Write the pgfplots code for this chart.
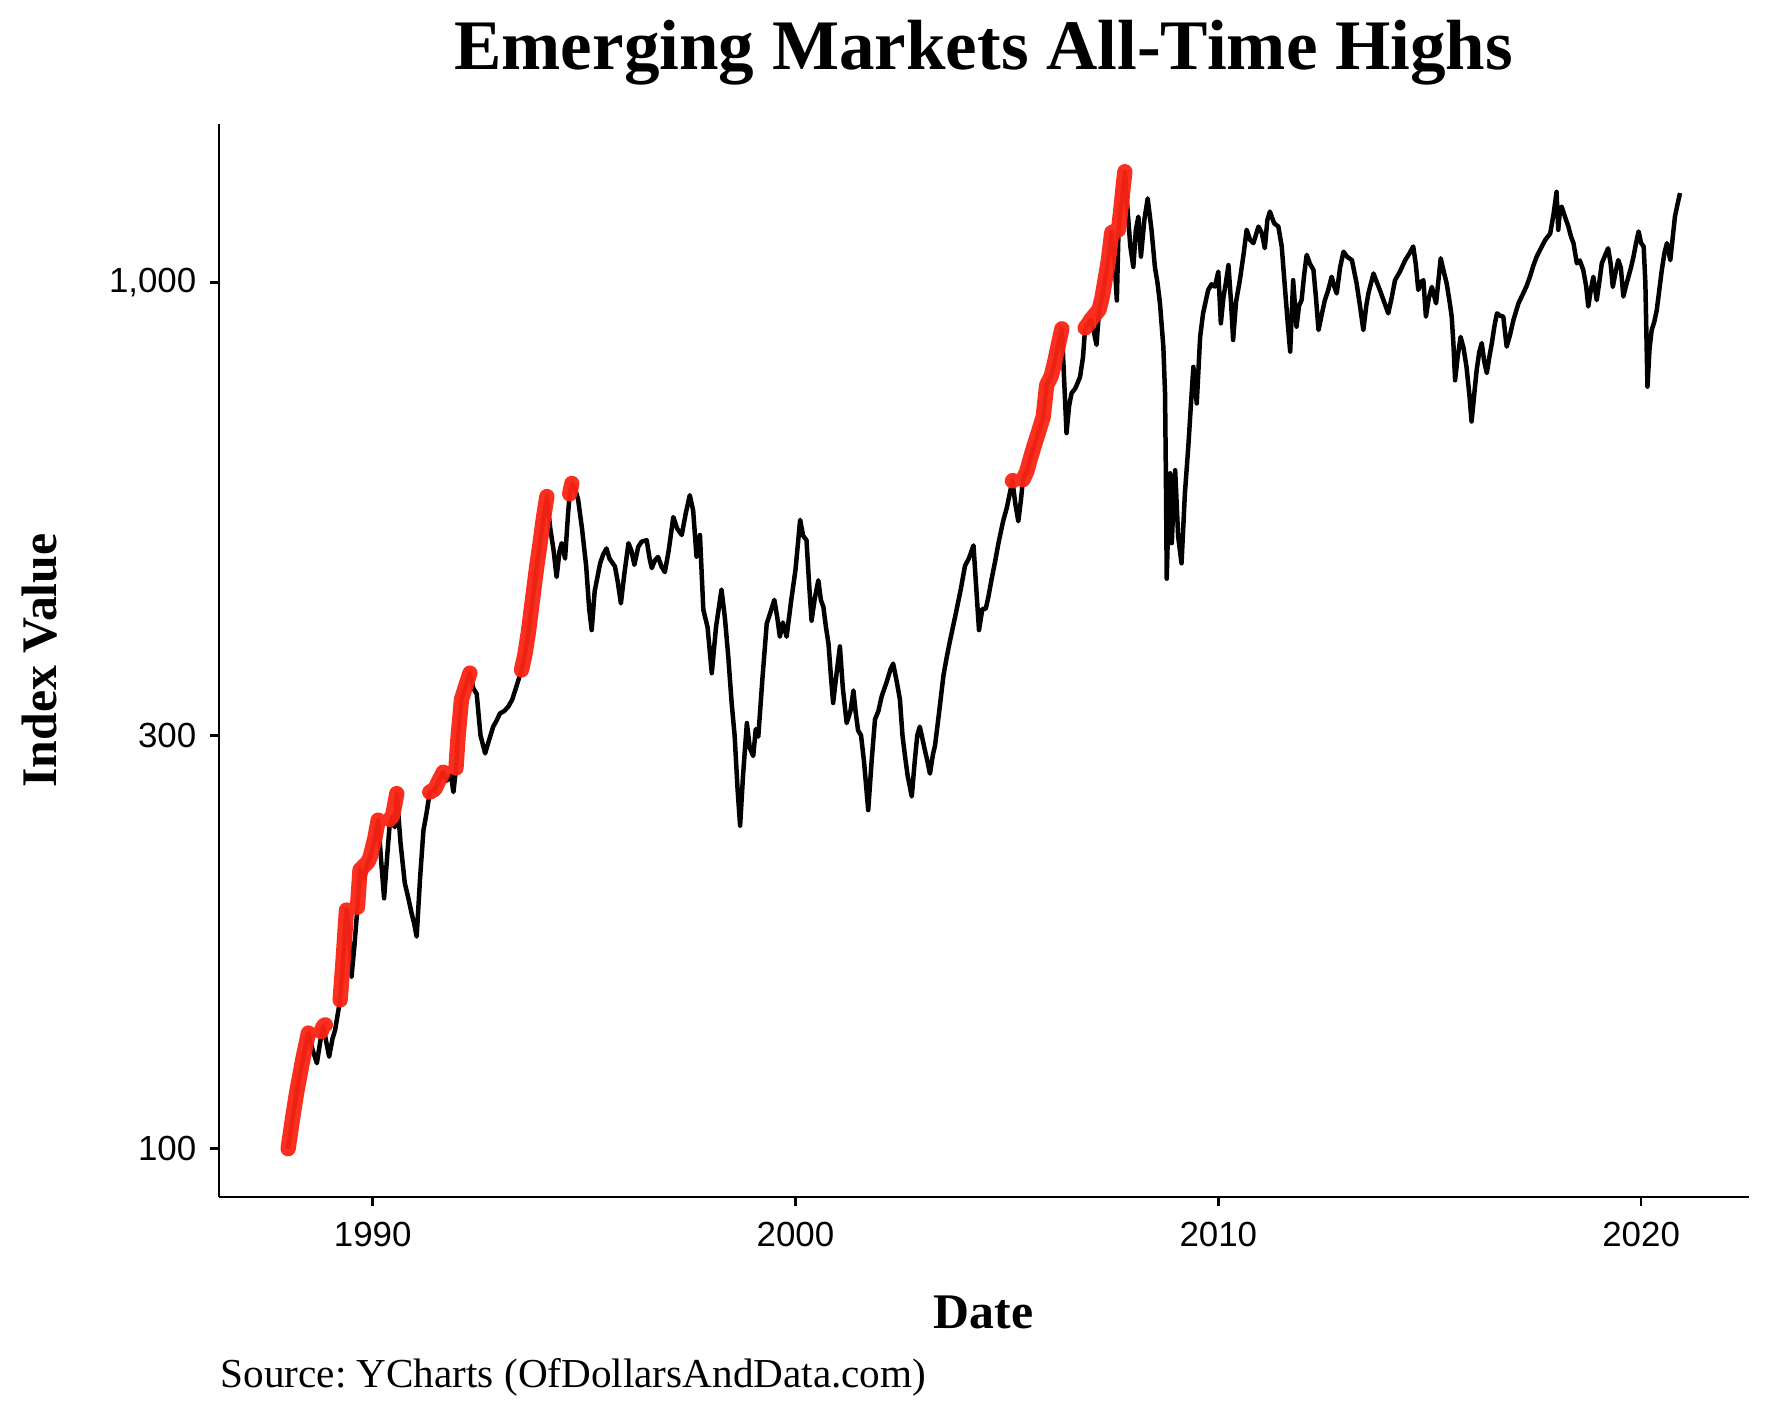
\documentclass[border=0pt]{standalone}
\usepackage{fontspec}
\setmainfont{Liberation Serif}
\newfontfamily\ticksans{Liberation Sans}
\usepackage{pgfplots}
\usepackage{pgfplotstable}
\pgfplotsset{compat=1.18}
\definecolor{athred}{RGB}{250,36,20}
\frenchspacing

\pgfplotstableread{
year value
1988.00 100
1988.10 108
1988.20 116
1988.35 127
1988.48 136
1988.58 130
1988.68 125.5
1988.76 133
1988.83 138.5
1988.90 133
1988.97 127.7
1989.05 134
1989.11 137
1989.23 148.5
1989.30 165
1989.38 188.6
1989.44 180
1989.50 158
1989.57 172
1989.64 190
1989.70 209.8
1989.80 205
1989.88 214
1989.94 217
1990.05 228
1990.13 239.5
1990.20 215
1990.27 194.6
1990.35 220
1990.40 236
1990.47 242
1990.52 235
1990.57 257
1990.66 225
1990.76 202.5
1990.84 195
1990.92 187
1990.98 182
1991.04 175.7
1991.12 205
1991.20 233
1991.28 245
1991.35 258
1991.47 260
1991.55 265
1991.67 272
1991.75 266
1991.85 270
1991.91 258
1991.97 275
1992.02 299
1992.10 330
1992.20 342
1992.30 354
1992.38 340
1992.46 335
1992.55 300
1992.66 286
1992.75 296
1992.85 307
1992.93 312
1993.01 318
1993.11 320
1993.21 324
1993.30 330
1993.37 338
1993.45 348
1993.52 357
1993.60 372
1993.68 394
1993.80 438
1993.88 470
1993.96 500
1994.04 535
1994.12 566
1994.20 520
1994.28 490
1994.35 457
1994.42 490
1994.47 500
1994.55 480
1994.62 540
1994.66 570
1994.71 586
1994.80 575
1994.86 561
1994.95 520
1995.05 470
1995.12 420
1995.18 397
1995.25 440
1995.38 474
1995.45 485
1995.53 493
1995.60 480
1995.73 470
1995.80 450
1995.87 426
1995.95 460
1996.05 500
1996.12 490
1996.19 472
1996.28 495
1996.36 502
1996.48 504
1996.55 480
1996.60 468
1996.68 478
1996.75 482
1996.83 470
1996.91 463
1997.00 490
1997.11 536
1997.20 520
1997.31 511
1997.40 540
1997.50 568
1997.58 545
1997.66 482
1997.74 511
1997.82 419
1997.92 400
1998.02 354
1998.12 400
1998.25 442
1998.33 410
1998.41 370
1998.49 327
1998.56 300
1998.63 260
1998.69 236
1998.76 270
1998.85 310
1998.92 290
1999.00 284
1999.06 305
1999.12 299
1999.22 350
1999.32 404
1999.40 415
1999.50 430
1999.57 410
1999.63 390
1999.70 405
1999.79 390
1999.90 430
2000.00 466
2000.11 532
2000.18 510
2000.26 504
2000.32 450
2000.38 407
2000.45 430
2000.54 453
2000.60 430
2000.66 422
2000.72 400
2000.78 383
2000.84 350
2000.89 327
2000.96 350
2001.05 380
2001.12 340
2001.21 310
2001.30 320
2001.37 338
2001.42 320
2001.48 304
2001.55 300
2001.62 280
2001.72 246
2001.80 280
2001.88 313
2001.96 320
2002.04 333
2002.15 345
2002.25 358
2002.31 363
2002.40 345
2002.47 330
2002.53 300
2002.59 284
2002.65 270
2002.75 255
2002.82 280
2002.88 300
2002.94 307
2003.05 290
2003.12 280
2003.18 271
2003.25 285
2003.30 292
2003.40 320
2003.50 352
2003.58 370
2003.65 385
2003.77 410
2003.90 440
2004.01 471
2004.10 480
2004.21 497
2004.28 440
2004.34 397
2004.42 420
2004.50 420
2004.56 433
2004.64 455
2004.72 476
2004.80 500
2004.91 530
2005.00 550
2005.13 590
2005.20 555
2005.27 530
2005.33 560
2005.38 592
2005.47 605
2005.55 625
2005.62 642
2005.74 670
2005.86 700
2005.94 761
2006.05 780
2006.12 805
2006.20 840
2006.30 884
2006.36 760
2006.41 670
2006.47 720
2006.53 745
2006.62 755
2006.73 778
2006.80 820
2006.85 886
2006.92 895
2006.98 905
2007.05 880
2007.12 847
2007.18 930
2007.25 960
2007.32 1005
2007.40 1060
2007.48 1142
2007.55 1050
2007.60 953
2007.64 1150
2007.70 1220
2007.75 1290
2007.79 1342
2007.86 1200
2007.92 1100
2007.99 1042
2008.05 1150
2008.11 1191
2008.17 1071
2008.25 1180
2008.33 1250
2008.42 1150
2008.50 1042
2008.56 1000
2008.62 946
2008.70 843
2008.74 745
2008.76 600
2008.78 455
2008.82 540
2008.86 602
2008.90 500
2008.94 560
2008.98 607
2009.05 509
2009.13 474
2009.21 571
2009.29 646
2009.35 720
2009.41 799
2009.49 725
2009.57 865
2009.64 921
2009.70 950
2009.76 980
2009.84 995
2009.92 989
2010.00 1029
2010.06 897
2010.12 960
2010.18 1000
2010.24 1047
2010.30 950
2010.35 858
2010.42 950
2010.51 1006
2010.60 1080
2010.67 1150
2010.75 1120
2010.83 1110
2010.95 1160
2011.03 1140
2011.10 1095
2011.16 1180
2011.22 1207
2011.32 1170
2011.42 1160
2011.50 1100
2011.58 980
2011.64 900
2011.70 832
2011.77 1006
2011.85 889
2011.91 940
2011.97 954
2012.03 1020
2012.09 1076
2012.17 1050
2012.25 1034
2012.31 960
2012.37 881
2012.45 920
2012.52 954
2012.60 980
2012.68 1015
2012.74 990
2012.80 971
2012.88 1040
2012.96 1085
2013.05 1070
2013.16 1061
2013.27 998
2013.35 940
2013.43 881
2013.50 940
2013.55 971
2013.67 1024
2013.75 1000
2013.82 980
2013.92 950
2014.02 921
2014.10 960
2014.18 1006
2014.30 1030
2014.42 1061
2014.52 1080
2014.61 1100
2014.67 1050
2014.73 980
2014.79 1000
2014.85 1006
2014.91 913
2014.98 960
2015.05 988
2015.15 946
2015.26 1066
2015.33 1030
2015.40 998
2015.47 950
2015.52 913
2015.56 850
2015.60 771
2015.66 820
2015.73 865
2015.80 840
2015.87 799
2015.94 740
2015.99 691
2016.05 740
2016.11 792
2016.17 830
2016.23 851
2016.29 810
2016.35 786
2016.41 820
2016.47 851
2016.53 890
2016.59 921
2016.67 915
2016.74 913
2016.82 843
2016.90 870
2016.98 905
2017.10 946
2017.21 971
2017.29 990
2017.37 1015
2017.45 1045
2017.53 1071
2017.63 1095
2017.73 1119
2017.85 1139
2017.93 1200
2018.00 1272
2018.04 1150
2018.08 1210
2018.12 1223
2018.20 1190
2018.28 1160
2018.34 1130
2018.40 1110
2018.48 1052
2018.55 1060
2018.63 1034
2018.70 990
2018.75 938
2018.81 980
2018.87 1015
2018.95 954
2019.01 1000
2019.07 1052
2019.15 1075
2019.22 1095
2019.28 1050
2019.33 988
2019.40 1030
2019.46 1061
2019.52 1040
2019.58 963
2019.64 990
2019.70 1015
2019.76 1040
2019.82 1071
2019.88 1110
2019.94 1145
2020.00 1110
2020.06 1100
2020.10 1000
2020.15 758
2020.20 840
2020.25 881
2020.31 900
2020.37 929
2020.43 980
2020.49 1034
2020.55 1080
2020.61 1110
2020.69 1061
2020.75 1130
2020.80 1191
2020.86 1230
2020.92 1268
}\indexdata

\pgfplotstableread{
year value
1988.00 100
1988.10 108
1988.20 116
1988.35 127
1988.48 136
1988.60 nan
1988.78 136.5
1988.83 138.5
1988.88 139
1988.95 nan
1989.23 148.5
1989.30 165
1989.38 188.6
1989.50 nan
1989.64 190
1989.70 209.8
1989.88 214
1989.94 217
1990.05 228
1990.13 239.5
1990.30 nan
1990.40 240
1990.47 242
1990.57 257
1990.80 nan
1991.35 258
1991.47 260
1991.55 265
1991.67 272
1991.80 nan
1991.97 275
1992.02 299
1992.10 330
1992.20 342
1992.30 354
1992.50 nan
1993.52 357
1993.60 372
1993.68 394
1993.80 438
1993.88 470
1993.96 500
1994.04 535
1994.12 566
1994.30 nan
1994.66 570
1994.71 586
1994.90 nan
2005.13 590
2005.14 590.5
2005.25 nan
2005.38 592
2005.47 605
2005.55 625
2005.62 642
2005.74 670
2005.86 700
2005.94 761
2006.05 780
2006.12 805
2006.20 840
2006.30 884
2006.50 nan
2006.85 886
2006.92 895
2006.98 905
2007.18 930
2007.25 960
2007.32 1005
2007.40 1060
2007.48 1142
2007.64 1150
2007.70 1220
2007.75 1290
2007.79 1342
}\athdata

\begin{document}
\begin{tikzpicture}
\begin{axis}[
  at={(0,0)}, anchor=south west,
  width=458.85bp, height=321.9bp, scale only axis,
  xmin=1986.365, xmax=2022.54,
  ymode=log, ymin=87.96, ymax=1523.6,
  axis x line*=bottom, axis y line*=left,
  axis line style={line width=0.8bp, -},
  xtick={1990,2000,2010,2020}, xticklabels={1990,2000,2010,2020},
  ytick={100,300,1000}, yticklabels={100,300,{1,000}},
  xminorticks=false, yminorticks=false,
  tick align=outside, major tick length=2.6bp,
  tick style={line width=0.8bp, black},
  ticklabel style={font=\ticksans\fontsize{10.5}{12}\selectfont, text=black},
  xticklabel style={yshift=-1.3bp},
  yticklabel style={xshift=-0.7bp},
  unbounded coords=jump,
]
\addplot[black, line width=1.35bp, line join=round] table[x=year, y=value] {\indexdata};
\addplot[athred, line width=4.6bp, line cap=round, line join=round, opacity=0.95] table[x=year, y=value] {\athdata};
\end{axis}
\node[anchor=base, inner sep=0, font=\bfseries\fontsize{21.4}{24}\selectfont] at (229.4bp,338.1bp) {Emerging Markets All-Time Highs};
\node[anchor=base, inner sep=0, font=\bfseries\fontsize{15}{18}\selectfont] at (229.4bp,-39.3bp) {Date};
\node[anchor=base, inner sep=0, rotate=90, font=\bfseries\fontsize{15}{18}\selectfont] at (-48.75bp,160.95bp) {Index Value};
\node[anchor=base west, inner sep=0, font=\fontsize{12.4}{14}\selectfont] at (0.3bp,-57bp) {Source: YCharts (OfDollarsAndData.com)};
\pgfresetboundingbox
\useasboundingbox (-65.7bp,-66bp) rectangle (465.6bp,359.1bp);
\end{tikzpicture}
\end{document}
